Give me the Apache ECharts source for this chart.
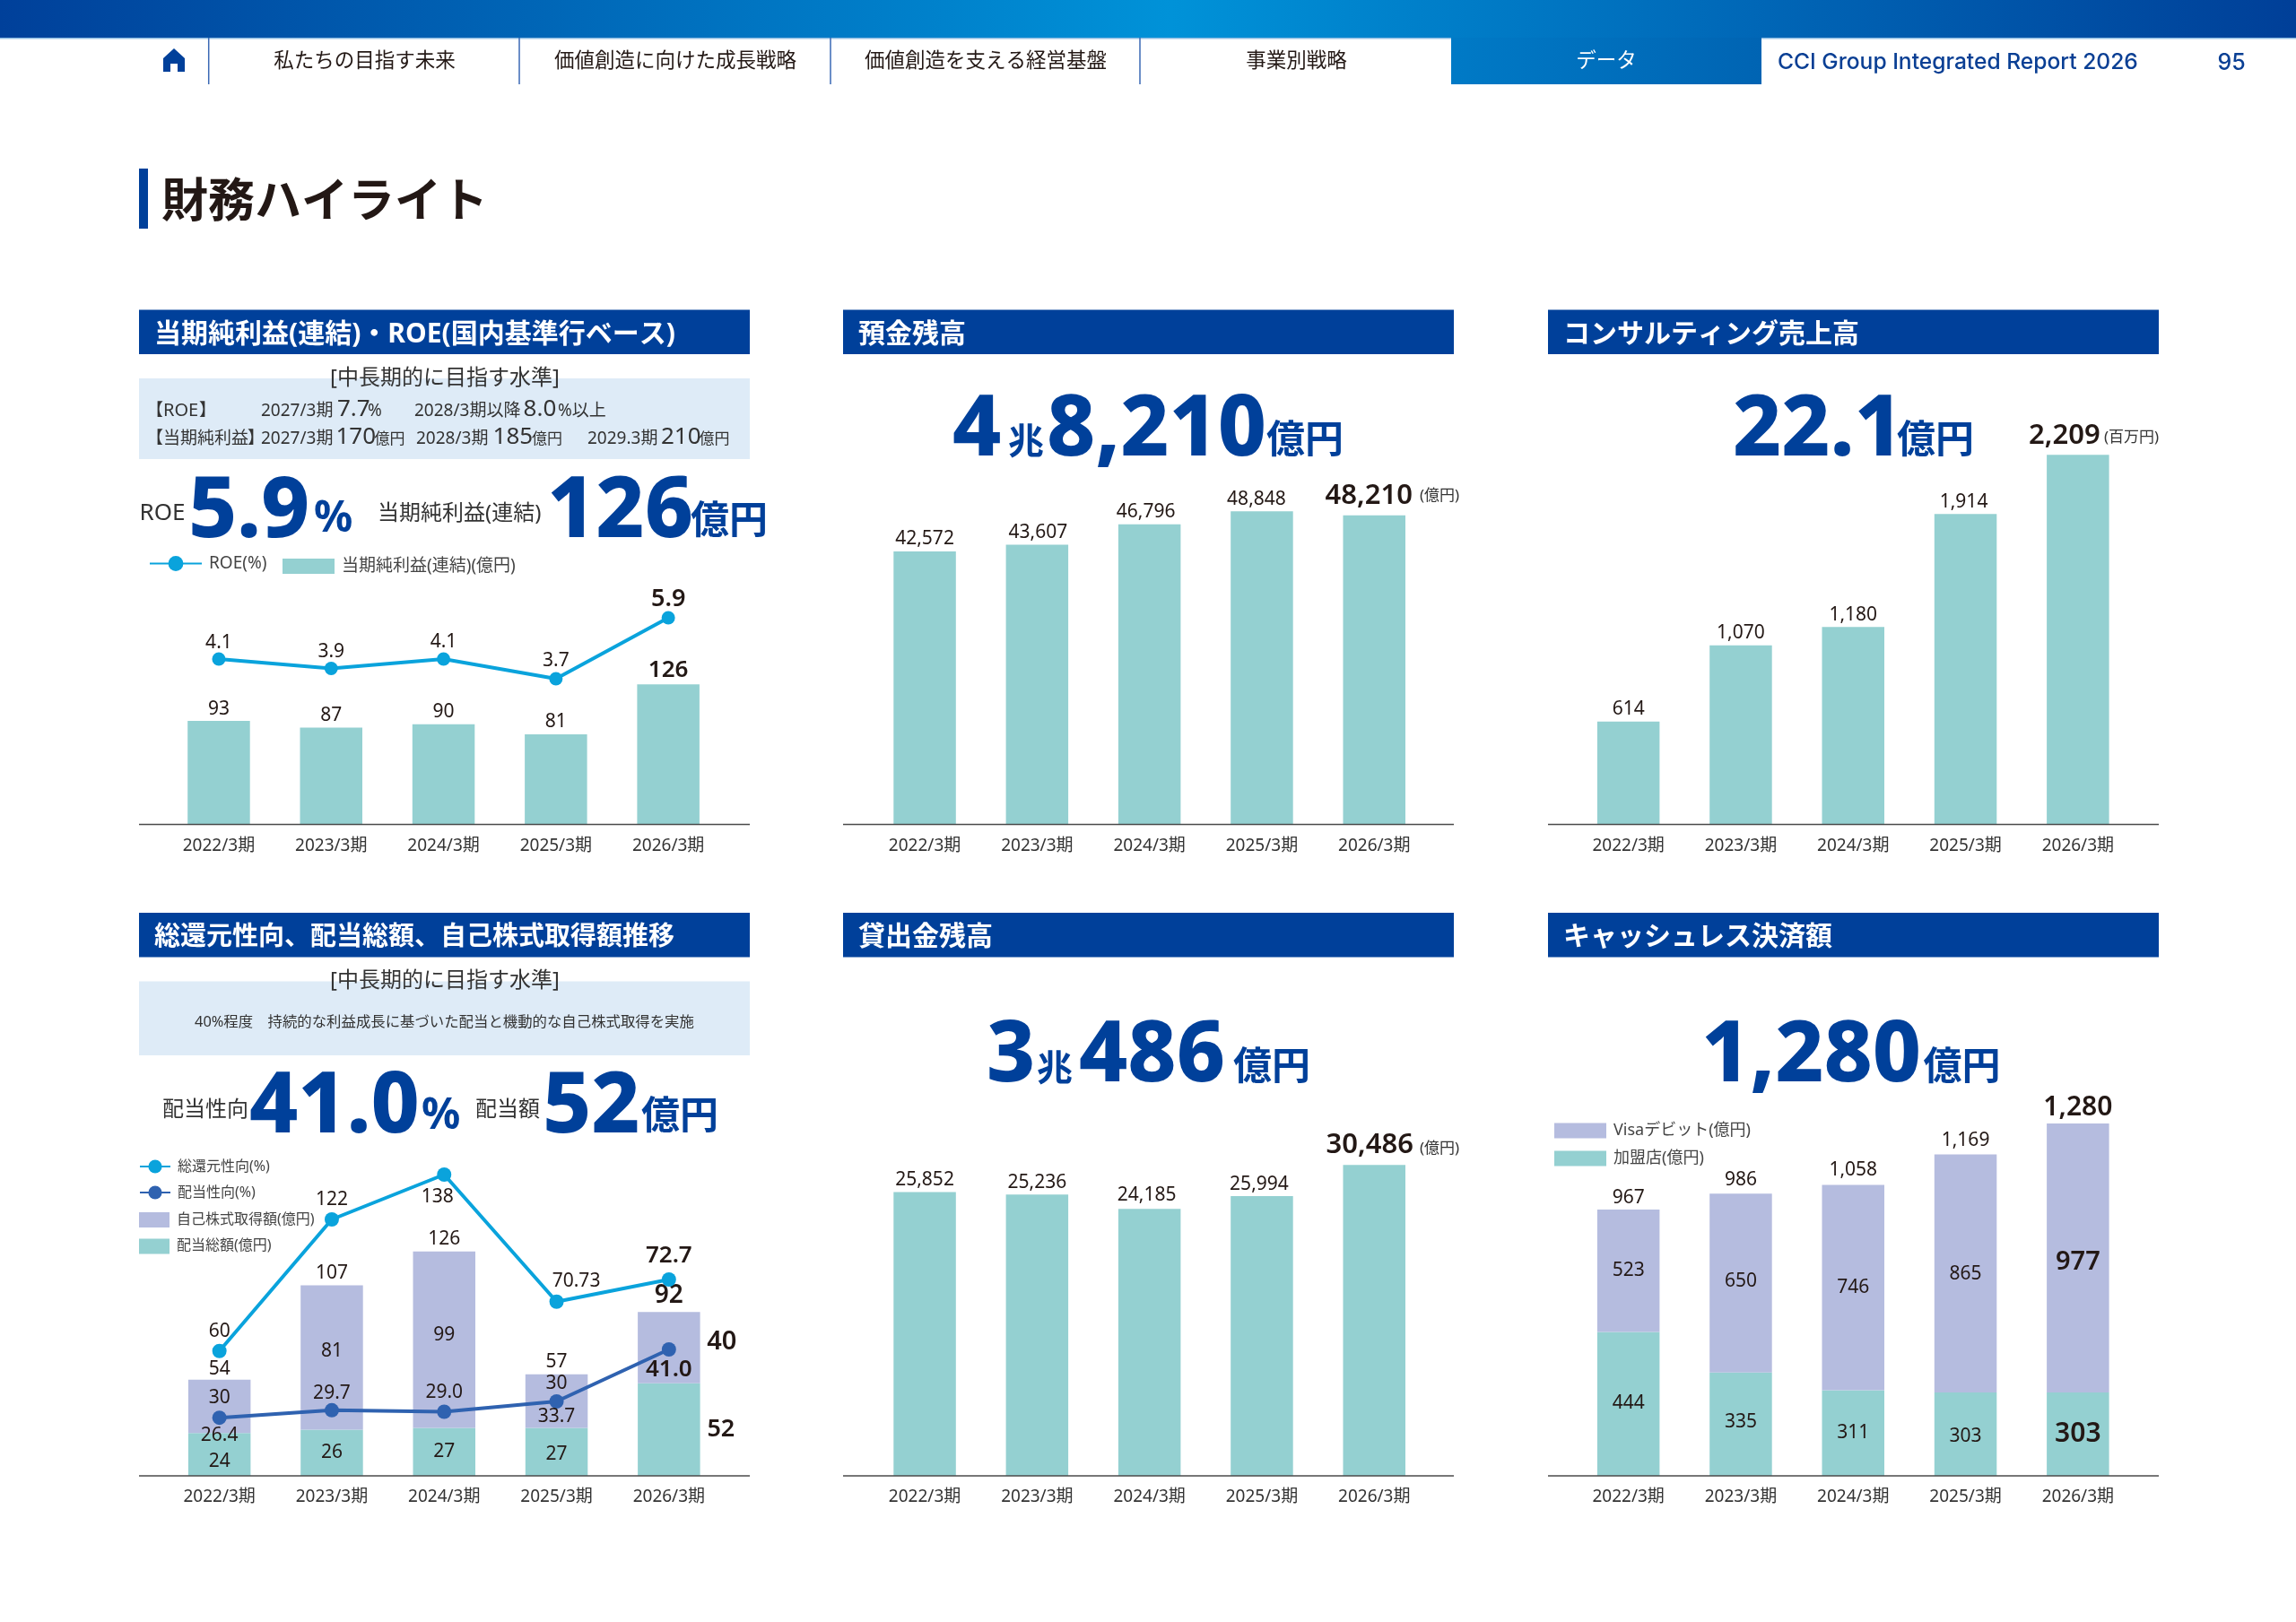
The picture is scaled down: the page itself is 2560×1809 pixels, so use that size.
<!DOCTYPE html>
<html><head><meta charset="utf-8">
<style>html,body{margin:0;padding:0;background:#fff}#c{width:2560px;height:1809px}</style>
<script src="https://cdn.jsdelivr.net/npm/echarts@6/dist/echarts.min.js"></script>
</head><body><div id="c"></div>
<script>
// ---------- data ----------
const periods = ['2022/3期','2023/3期','2024/3期','2025/3期','2026/3期'];

const netIncome = [93,87,90,81,126];
const roeLabels = ['4.1','3.9','4.1','3.7','5.9'];
// The source's lines and some bars are not drawn to scale: "Drawn" arrays hold the
// heights, "Labels" hold the printed numbers.
const roeDrawn = [4.42,4.08,4.42,3.71,5.9];

const deposits = [42572,43607,46796,48848,48210];
const depositLabels = ['42,572','43,607','46,796','48,848','48,210'];

const consultingLabels = ['614','1,070','1,180','1,914','2,209'];
const consultingDrawn = [614,1070,1180,1855,2209];

const dividends = [24,26,27,27,52];
const buybacks = [30,81,99,30,40];
const returnTotals = [54,107,126,57,92];
const totalReturnLabels = ['60','122','138','70.73','72.7'];
const totalReturnDrawn = [59.3,118,138,81.3,91.2];
const payoutLabels = ['26.4','29.7','29.0','33.7','41.0'];
const payoutDrawn = [25.76,27.44,27.1,29.4,41];

const loanLabels = ['25,852','25,236','24,185','25,994','30,486'];
const loanDrawn = [25940,25720,24410,25570,28430];

const merchantLabels = ['444','335','311','303','303'];
const merchantDrawn = [523,375,311,303,303];
const visaLabels = ['523','650','746','865','977'];
const visaDrawn = [444,650,746,865,977];
const cashlessTotalsDrawn = [967,1025,1057,1168,1280];
const cashlessTotalLabels = ['967','986','1,058','1,169','1,280'];

const navItems = ['私たちの目指す未来','価値創造に向けた成長戦略','価値創造を支える経営基盤','事業別戦略','データ'];
const panelTitles = ['当期純利益(連結)・ROE(国内基準行ベース)','預金残高','コンサルティング売上高','総還元性向、配当総額、自己株式取得額推移','貸出金残高','キャッシュレス決済額'];

// ---------- style ----------
const FF = '"Noto Sans","Noto Sans CJK JP",sans-serif';
const NAVY='#00409a', TEAL='#94d0d1', LAV='#b5bcdf', SKY='#0aa3dc', BLUE='#2f62b0', INK='#231815', BOX='#deebf7';
const g = [];
const rect=(x,y,w,h,fill)=>g.push({type:'rect',shape:{x,y,width:w,height:h},style:{fill},silent:true});
const line=(x1,y1,x2,y2,stroke,w)=>g.push({type:'line',shape:{x1,y1,x2,y2},style:{stroke,lineWidth:w},silent:true,z:20});
// text placed by its baseline
const T=(x,base,text,size,o={})=>g.push({type:'text',x,y:base-size*(o.k??0.28),silent:true,z:30,style:{text,fontSize:size,fontFamily:o.f||FF,
  fontWeight:o.w||400,fill:o.c||INK,align:o.a||'left',verticalAlign:'middle'}});
const hgrad=(stops)=>({type:'linear',x:0,y:0,x2:1,y2:0,colorStops:stops});

// page chrome
rect(0,0,2560,42,hgrad([{offset:0,color:'#00409a'},{offset:0.51,color:'#0092d8'},{offset:1,color:'#003f98'}]));
rect(0,42,2560,1.5,'#8fbde3');
rect(1618,42,346,52,hgrad([{offset:0,color:'#007ac6'},{offset:1,color:'#0064b3'}]));
[232.7,579,926,1271].forEach(x=>line(x,42,x,94,'#3a68b4',1.5));
g.push({type:'polygon',shape:{points:[[194,54],[206,65],[206,80],[198,80],[198,71],[190,71],[190,80],[182,80],[182,65]]},style:{fill:NAVY},silent:true});
[406.5,753,1099,1445.5,1791].forEach((x,i)=>T(x,75,navItems[i],22.5,{a:'center',w:400,c:i==4?'#fff':INK}));
T(1982,76,'CCI Group Integrated Report 2026',24.6,{w:500,c:'#0a3f94',f:'Inter,"Noto Sans",sans-serif'});
T(2488,77,'95',25,{a:'center',w:500,c:'#0a3f94',f:'Inter,"Noto Sans",sans-serif'});
rect(155,188,10,67,NAVY);
T(180,242,'財務ハイライト',52,{w:700});

// panels
const panelX=[155,940,1726];
[[0,345.5,49.5],[1,345.5,49.5],[2,345.5,49.5],[3,1018,49.5],[4,1018,49.5],[5,1018,49.5]].forEach(([i,y,h])=>{
  const x=panelX[i%3]; rect(x,y,681,h,NAVY);
  T(x+17,y+36,panelTitles[i],i==3?29:30,{w:700,c:'#fff'});
  line(x,i<3?919.4:1646,x+681,i<3?919.4:1646,'#4a4a4a',1.5);
});

// target boxes
rect(155,422,681,90,BOX); rect(155,1094.5,681,82.5,BOX);
T(496,429,'[中長期的に目指す水準]',24,{a:'center',c:'#333'});
T(496,1101,'[中長期的に目指す水準]',24,{a:'center',c:'#333'});
const small=[
 [163,464,'【',19],[182,464,'ROE',20],[222,464,'】',19],[291,464,'2027/3期',19],[376,464,'7.7',26],[410,464,'%',19],[462,464,'2028/3期以降',19],[583.6,464,'8.0',26],[622,464,'%以上',19],
 [163,495,'【',19],[182,495,'当期純利益',19],[276,495,'】',19],[291,495,'2027/3期',19],[374.5,495,'170',26],[417.5,495,'億円',17],[464,495,'2028/3期',19],[549.6,495,'185',26],[593,495,'億円',17],[655,495,'2029.3期',19],[737,495,'210',26],[779.5,495,'億円',17]];
small.forEach(([x,b,t,s])=>T(x,b,t,s,{c:'#333'}));
T(217,1145,'40%程度　持続的な利益成長に基づいた配当と機動的な自己株式取得を実施',16.4,{c:'#333'});

// headline figures
const big=(x,b,t)=>T(x,b,t,94,{w:800,c:NAVY});
const unit=(x,b,t,s=43)=>T(x,b,t,s,{w:700,c:NAVY,k:0.32});
T(155.6,580,'ROE',26,{c:'#333'}); big(210,598.6,'5.9'); unit(350,595,'%',48);
T(421,580,'当期純利益(連結)',24,{c:'#333'}); big(610,598.6,'126'); unit(770,597,'億円');
big(1062,507.6,'4'); unit(1124,507,'兆',40); big(1167,507.6,'8,210'); unit(1412,507,'億円');
big(1932,507.6,'22.1'); unit(2115,507,'億円');
big(1100,1206,'3'); unit(1156,1206,'兆',40); big(1203,1206,'486'); unit(1375,1206,'億円');
big(1897,1206,'1,280'); unit(2144.5,1206,'億円');
T(181,1245,'配当性向',24,{c:'#333'}); big(278,1263,'41.0'); unit(470,1261,'%',48);
T(530,1245,'配当額',24,{c:'#333'}); big(605,1263,'52'); unit(715,1261,'億円');
T(1583,558,'(億円)',17,{c:'#333'});
T(2346,493,'(百万円)',17,{c:'#333'});
T(1583,1286,'(億円)',17,{c:'#333'});

// ---------- chart ----------
const TOPS=[659,471.6,471.6,1296.6,1296.6,1234.6];
const BOT=[919.4,919.4,919.4,1646,1646,1646];
const LEFT=[181.3,968.4,1753,182,968.4,1753];
const grid=LEFT.map((left,i)=>({left,width:626.5,top:TOPS[i],height:BOT[i]-TOPS[i]}));
const xAxis=grid.map((_,i)=>({type:'category',gridIndex:i,data:periods,boundaryGap:true,
  axisLine:{show:false},axisTick:{show:false},
  axisLabel:{fontSize:19,color:'#333',fontFamily:FF,margin:i<3?15:14,interval:0}}));
const yAxis=[]; 
const Y=(gridIndex,min,max)=>{yAxis.push({type:'value',gridIndex,min,max,show:false,splitLine:{show:false}});return yAxis.length-1};
const yBar=[Y(0,0,210),Y(1,0,62630),Y(2,0,2400),Y(3,0,176),Y(4,0,28640),Y(5,0,1340)];
const yRoe=Y(0,-1.53,6.87), yTR=Y(3,3.6,143.36), yPay=Y(3,12.8,82.68);

const pts=(vals,labels,offs,bold,pos)=>vals.map((v,i)=>({value:v,label:Object.assign(
   {formatter:String(labels[i]),offset:offs?offs[i]:[0,0],position:pos},
   bold&&bold[i]?{fontSize:bold[i],fontWeight:600}:{})}));
const labelBase={show:true,fontSize:21,color:INK,fontFamily:FF,distance:3};
const bar=(name,gi,vals,labels,o={})=>({type:'bar',name,xAxisIndex:gi,yAxisIndex:yBar[gi],barWidth:69.5,stack:o.stack,
  itemStyle:{color:o.color||TEAL},label:labelBase,data:pts(vals,labels,o.offs,o.bold,o.pos||'top')});
const lin=(name,gi,yi,vals,labels,color,offs,bold,size)=>({type:'line',name,xAxisIndex:gi,yAxisIndex:yi,z:5,symbol:'circle',symbolSize:size,
  lineStyle:{color,width:4},itemStyle:{color},label:labelBase,data:pts(vals,labels,offs,bold,'inside')});
const ghost=(name,gi,vals,labels,offs,bold)=>({type:'line',name,xAxisIndex:gi,yAxisIndex:yBar[gi],symbol:'circle',symbolSize:0.1,
  lineStyle:{opacity:0},itemStyle:{color:'transparent'},label:labelBase,data:pts(vals,labels,offs,bold,'top')});

const last=(s)=>[0,0,0,0,s];
const series=[
 bar('当期純利益(連結)(億円)',0,netIncome,netIncome,{bold:last(26)}),
 lin('ROE(%)',0,yRoe,roeDrawn,roeLabels,SKY,[[0,-18],[0,-18],[0,-19],[0,-20],[0,-21]],last(27),15),
 bar('預金残高',1,deposits,depositLabels,{bold:last(31),offs:[[0,0],[1,0],[-4,0],[-6,0],[-6,-3]]}),
 bar('コンサルティング売上高',2,consultingDrawn,consultingLabels,{bold:last(31),offs:[[0,0],[0,0],[0,0],[-2,0],[-15,-3]]}),
 bar('配当総額(億円)',3,dividends,dividends,{stack:'r',pos:'inside',offs:[[0,8],[0,0],[0,0],[0,3],[58,0]],bold:last(27)}),
 bar('自己株式取得額(億円)',3,buybacks,buybacks,{stack:'r',color:LAV,pos:'inside',offs:[[0,-10],[0,-7],[0,-5],[0,-20],[59,-6]],bold:last(29)}),
 ghost('還元合計',3,returnTotals,returnTotals,[[0,2],[0,0],[0,0],[0,0],[0,-1]],last(28)),
 lin('総還元性向(%)',3,yTR,totalReturnDrawn,totalReturnLabels,SKY,[[0,-22],[0,-22],[-7.5,25],[22,-23],[0,-26]],last(26),16),
 lin('配当性向(%)',3,yPay,payoutDrawn,payoutLabels,BLUE,[[0,20],[0,-19],[0,-21],[0,17],[0,23]],last(26),16),
 bar('貸出金残高',4,loanDrawn,loanLabels,{bold:last(31),offs:[[0,0],[0,0],[-3,-2],[-3,0],[-5,-3]]}),
 bar('加盟店(億円)',5,merchantDrawn,merchantLabels,{stack:'c',pos:'inside',offs:[[0,-1],[0,-2],[0,0],[0,3],[0,0]],bold:last(30)}),
 bar('Visaデビット(億円)',5,visaDrawn,visaLabels,{stack:'c',color:LAV,pos:'inside',offs:[[0,0],[0,-2],[0,0],[0,1],[0,5]],bold:last(29)}),
 ghost('決済額合計',5,cashlessTotalsDrawn,cashlessTotalLabels,[[0,0],[0,-2],[0,-3],[0,-2],[0,0]],last(30)),
];

const legendText=(s)=>({fontSize:s,color:'#444',fontFamily:FF,padding:[0,0,0,3]});
const L=(left,top,orient,w,h,gap,size,names,icon)=>({left,top,orient,itemWidth:w,itemHeight:h,itemGap:gap,padding:0,textStyle:legendText(size),icon,data:names});
const legend=[
 L(166,619,'horizontal',58,21,0,19,['ROE(%)']),
 L(315,622,'horizontal',58,17,0,19,['当期純利益(連結)(億円)'],'rect'),
 L(155,1293,'vertical',34,19,13,16,['総還元性向(%)','配当性向(%)']),
 L(155,1352,'vertical',34,17,12.4,16,['自己株式取得額(億円)','配当総額(億円)'],'rect'),
 L(1733,1252,'vertical',58,17,13,18,['Visaデビット(億円)','加盟店(億円)'],'rect'),
];

const chart=echarts.init(document.getElementById('c'),null,{renderer:'canvas',width:2560,height:1809});
chart.setOption({animation:false,backgroundColor:'#fff',grid,xAxis,yAxis,series,legend,graphic:{elements:g},tooltip:{show:false}});
</script></body></html>
